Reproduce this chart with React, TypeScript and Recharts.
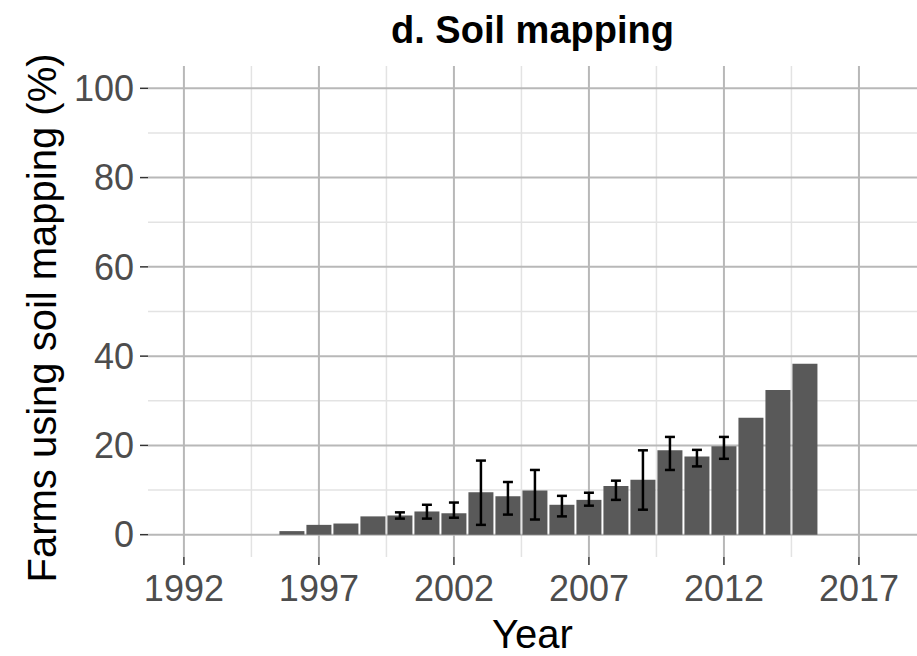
import React from "react";
import { BarChart, Bar, XAxis, YAxis, CartesianGrid, ErrorBar, Label } from "recharts";

const years = [1996, 1997, 1998, 1999, 2000, 2001, 2002, 2003, 2004, 2005, 2006, 2007, 2008, 2009, 2010, 2011, 2012, 2013, 2014, 2015];
const meanPct = [0.8, 2.2, 2.5, 4.1, 4.3, 5.2, 4.8, 9.5, 8.6, 9.9, 6.7, 7.8, 10.9, 12.3, 18.9, 17.5, 19.8, 26.2, 32.4, 38.3];
const lowerPct: (number | null)[] = [null, null, null, null, 3.6, 3.6, 3.8, 2.2, 4.5, 3.4, 4.1, 6.5, 7.8, 5.6, 14.5, 15.3, 17.0, null, null, null];
const upperPct: (number | null)[] = [null, null, null, null, 5.0, 6.7, 7.2, 16.6, 11.8, 14.5, 8.7, 9.4, 12.1, 18.9, 21.9, 19.0, 21.9, null, null, null];

const xTicks = [1992, 1997, 2002, 2007, 2012, 2017];
const xMinor = [1994.5, 1999.5, 2004.5, 2009.5, 2014.5, 2019.5];
const yTicks = [0, 20, 40, 60, 80, 100];
const yMinor = [10, 30, 50, 70, 90];

const data = years.map((year, i) => ({
  year,
  value: meanPct[i],
  err:
    lowerPct[i] == null || upperPct[i] == null
      ? null
      : [meanPct[i] - (lowerPct[i] as number), (upperPct[i] as number) - meanPct[i]],
}));

const FONT = "'Liberation Sans', Arial, sans-serif";

export default function App() {
  return (
    <div style={{ position: "absolute", left: 0, top: 0, width: 917, height: 656, background: "#fff" }}>
      <div
        style={{
          position: "absolute",
          left: 148,
          width: 769,
          top: 6,
          textAlign: "center",
          fontFamily: FONT,
          fontWeight: "bold",
          fontSize: 38,
          color: "#000",
          lineHeight: "48px",
        }}
      >
        d. Soil mapping
      </div>
      <BarChart
        width={917}
        height={656}
        data={data}
        margin={{ top: 66, right: 0, bottom: 0, left: 0 }}
        barSize={25}
      >
        <CartesianGrid
          horizontalValues={yMinor}
          verticalValues={xMinor}
          stroke="#e3e3e3"
          strokeWidth={1.5}
        />
        <CartesianGrid
          horizontalValues={yTicks}
          verticalValues={xTicks}
          stroke="#b8b8b8"
          strokeWidth={2}
        />
        <XAxis
          dataKey="year"
          type="number"
          domain={[1990.67, 2019.15]}
          ticks={xTicks}
          allowDataOverflow
          axisLine={false}
          tickLine={{ stroke: "#333", strokeWidth: 1.5 }}
          tickSize={8}
          tickMargin={10}
          height={99}
          tick={{ fontSize: 36, fill: "#4d4d4d", fontFamily: FONT }}
        >
          <Label
            value="Year"
            position="insideBottom"
            offset={8}
            style={{ fontSize: 40, fill: "#000", fontFamily: FONT }}
          />
        </XAxis>
        <YAxis
          type="number"
          domain={[-5, 105]}
          ticks={yTicks}
          allowDataOverflow
          axisLine={false}
          tickLine={{ stroke: "#333", strokeWidth: 1.5 }}
          tickSize={8}
          tickMargin={6}
          width={148}
          tick={{ fontSize: 36, fill: "#4d4d4d", fontFamily: FONT }}
        >
          <Label
            content={() => (
              <text
                x={42}
                y={318}
                transform="rotate(-90 42 318)"
                textAnchor="middle"
                dominantBaseline="central"
                style={{ fontSize: 40, fill: "#000", fontFamily: FONT }}
              >
                Farms using soil mapping (%)
              </text>
            )}
          />
        </YAxis>
        <Bar dataKey="value" fill="#595959" isAnimationActive={false}>
          <ErrorBar dataKey="err" direction="y" width={5} stroke="#000" strokeWidth={2.5} isAnimationActive={false} />
        </Bar>
      </BarChart>
    </div>
  );
}
